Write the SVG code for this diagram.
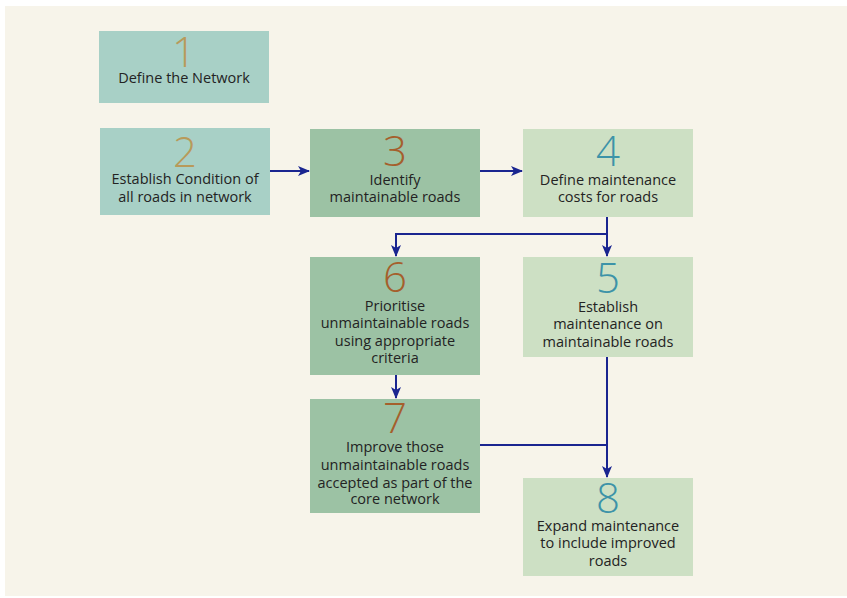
<svg xmlns="http://www.w3.org/2000/svg" width="847" height="598" viewBox="0 0 847 598">
<style>
.t{font-family:"Open Sans","Noto Sans",sans-serif;font-size:14.5px;fill:#232323;text-anchor:middle}
.n{font-family:"Open Sans","Noto Sans",sans-serif;font-size:42px;font-weight:300;text-anchor:middle}
.a{fill:#a8d0c6}.b{fill:#9cc2a4}.c{fill:#cde0c4}
.na{fill:#b89a5a}.nb{fill:#a55f2c}.nc{fill:#3d93a8}
.l{fill:none;stroke:#1a2590;stroke-width:2}
</style>
<defs>
<marker id="ar" markerWidth="12" markerHeight="12" viewBox="0 0 12 10" refX="11" refY="5" orient="auto" markerUnits="userSpaceOnUse">
<path d="M0,0 L12,5 L0,10 L3,5 z" fill="#1a2590"/>
</marker>
</defs>
<rect x="0" y="0" width="847" height="598" fill="#ffffff"/>
<rect x="5" y="6" width="842" height="590" fill="#f7f4ea"/>
<g id="node1"><rect class="a" x="99" y="31" width="170" height="72"/>
<text class="n na" x="184" y="67">1</text>
<text class="t" x="184" y="83">Define the Network</text></g>
<g id="node2"><rect class="a" x="100" y="128" width="170" height="87"/>
<text class="n na" x="185" y="167">2</text>
<text class="t" x="185" y="184">Establish Condition of</text>
<text class="t" x="185" y="202">all roads in network</text></g>
<g id="node3"><rect class="b" x="310" y="129" width="170" height="88"/>
<text class="n nb" x="395" y="166">3</text>
<text class="t" x="395" y="185">Identify</text>
<text class="t" x="395" y="202">maintainable roads</text></g>
<g id="node4"><rect class="c" x="523" y="129" width="170" height="88"/>
<text class="n nc" x="608" y="166">4</text>
<text class="t" x="608" y="185">Define  maintenance</text>
<text class="t" x="608" y="202">costs for roads</text></g>
<g id="node6"><rect class="b" x="310" y="257" width="170" height="118"/>
<text class="n nb" x="395" y="292">6</text>
<text class="t" x="395" y="311">Prioritise</text>
<text class="t" x="395" y="328">unmaintainable roads</text>
<text class="t" x="395" y="346">using appropriate</text>
<text class="t" x="395" y="363">criteria</text></g>
<g id="node5"><rect class="c" x="523" y="257" width="170" height="100"/>
<text class="n nc" x="608" y="293">5</text>
<text class="t" x="608" y="312">Establish</text>
<text class="t" x="608" y="329">maintenance  on</text>
<text class="t" x="608" y="347">maintainable roads</text></g>
<g id="node7"><rect class="b" x="310" y="399" width="170" height="114"/>
<text class="n nb" x="395" y="433">7</text>
<text class="t" x="395" y="452">Improve those</text>
<text class="t" x="395" y="470">unmaintainable roads</text>
<text class="t" x="395" y="488">accepted as part of the</text>
<text class="t" x="395" y="504">core network</text></g>
<g id="node8"><rect class="c" x="523" y="478" width="170" height="98"/>
<text class="n nc" x="608" y="513">8</text>
<text class="t" x="608" y="531">Expand maintenance</text>
<text class="t" x="608" y="548">to include improved</text>
<text class="t" x="608" y="566">roads</text></g>
<g id="connectors">
<path class="l" d="M270,171 H309" marker-end="url(#ar)"/>
<path class="l" d="M480,171 H522" marker-end="url(#ar)"/>
<path class="l" d="M607,217 V256" marker-end="url(#ar)"/>
<path class="l" d="M607,234 H396 V256" marker-end="url(#ar)"/>
<path class="l" d="M396,375 V398" marker-end="url(#ar)"/>
<path class="l" d="M607,357 V477" marker-end="url(#ar)"/>
<path class="l" d="M480,445 H607"/>
</g>
</svg>
